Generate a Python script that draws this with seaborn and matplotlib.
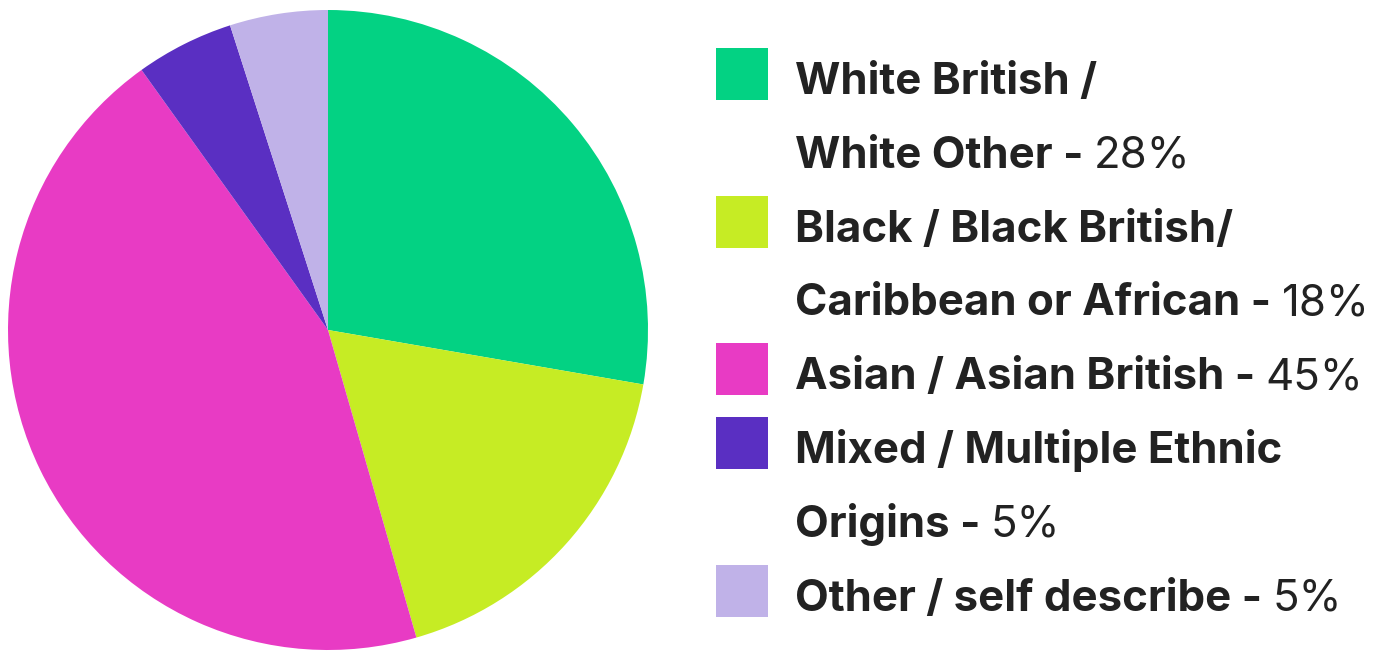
import matplotlib.pyplot as plt
from matplotlib.patches import Rectangle
import seaborn as sns

# data
groups = [
    "White British /\nWhite Other",
    "Black / Black British/\nCaribbean or African",
    "Asian / Asian British",
    "Mixed / Multiple Ethnic\nOrigins",
    "Other / self describe",
]
shares = [28, 18, 45, 5, 5]
colours = ["#03D283", "#C6EC24", "#E83BC4", "#5A2FC2", "#C0B2E8"]

sns.set_theme(style="white")
plt.rcParams["font.family"] = ["Inter", "DejaVu Sans"]

W, H = 1398, 653
fig = plt.figure(figsize=(W / 100, H / 100), dpi=100)

# pie
ax = fig.add_axes([8 / W, (H - 650) / H, 640 / W, 640 / H])
ax.pie(shares, colors=colours, startangle=90, counterclock=False,
       wedgeprops=dict(linewidth=0))
ax.set_xlim(-1, 1)
ax.set_ylim(-1, 1)
ax.set_aspect("equal")
ax.axis("off")

# legend drawn by hand: bold label, regular percentage
fs = 31.5
ink = "#222222"
first_base = 94
gap = 73.8
line = 0
for name, pct, col in zip(groups, shares, colours):
    parts = name.split("\n")
    base = first_base + line * gap
    fig.add_artist(Rectangle((716 / W, 1 - (base + 6) / H), 52 / W, 52 / H,
                             transform=fig.transFigure, color=col, lw=0))
    for i, part in enumerate(parts):
        y = first_base + (line + i) * gap
        last = i == len(parts) - 1
        t = fig.text(795 / W, 1 - y / H, part + (" - " if last else ""),
                     fontsize=fs, fontweight="bold", color=ink, va="baseline")
        if last:
            ax.annotate(f"{pct}%", xy=(1, 0), xycoords=t, va="bottom", ha="left",
                        fontsize=fs, color=ink, annotation_clip=False)
    line += len(parts)

fig.savefig("out.png", dpi=100)
